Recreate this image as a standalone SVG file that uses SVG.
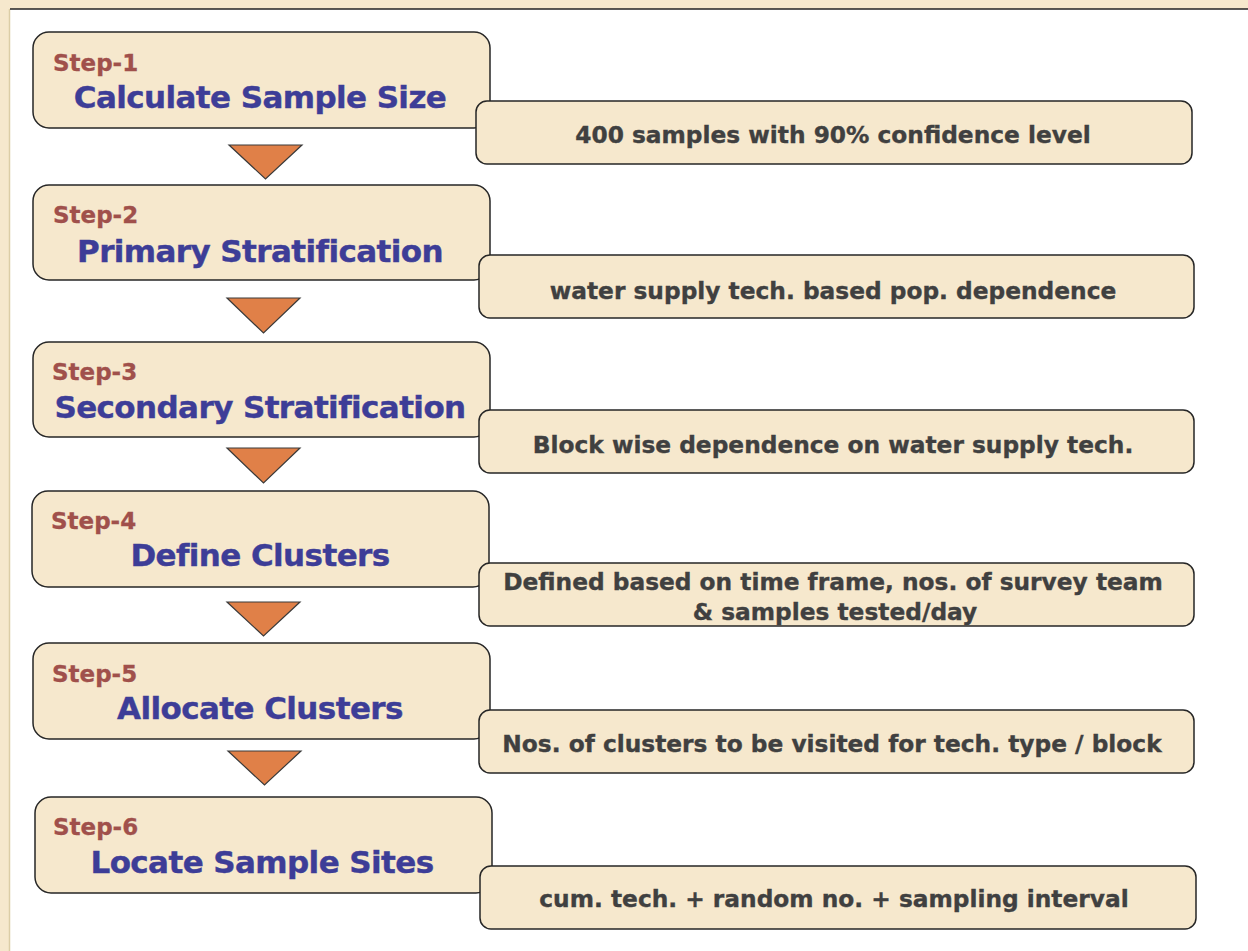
<svg xmlns="http://www.w3.org/2000/svg" width="1248" height="951" viewBox="0 0 1248 951">
<style>
.step{fill:#F6E8CD;stroke:#262626;stroke-width:1.5}
.note{fill:#F6E8CD;stroke:#262626;stroke-width:1.5}
.lbl{font-family:"DejaVu Sans",Verdana,sans-serif;font-weight:bold;font-size:23px;fill:#A0504B;stroke:#A0504B;stroke-width:0.3}
.ttl{font-family:"DejaVu Sans",Verdana,sans-serif;font-weight:bold;font-size:31px;fill:#3D3D97;stroke:#3D3D97;stroke-width:0.4;text-anchor:middle;letter-spacing:-0.6px}
.txt{font-family:"DejaVu Sans",Verdana,sans-serif;font-weight:bold;font-size:23.3px;fill:#404040;stroke:#404040;stroke-width:0.35;text-anchor:middle}
.arr{fill:#E08048;stroke:#3a3a3a;stroke-width:1.2;stroke-linejoin:miter}
</style>
<rect x="0" y="0" width="1248" height="951" fill="#FFFFFF"/>
<rect x="0" y="0" width="1248" height="9" fill="#F6E8CD"/>
<rect x="0" y="0" width="9" height="951" fill="#F6E8CD"/>
<line x1="9.5" y1="9" x2="9.5" y2="951" stroke="#DCCDA6" stroke-width="1.5"/>
<line x1="10" y1="9" x2="1248" y2="9" stroke="#222" stroke-width="1.5"/>

<g id="connectors">
<polygon class="arr" points="229,145 302,145 265.5,179"/>
<polygon class="arr" points="227,298 300,298 263.5,333"/>
<polygon class="arr" points="227,448 300,448 263.5,483"/>
<polygon class="arr" points="227,602 300,602 263.5,636"/>
<polygon class="arr" points="228,751 301,751 264.5,785"/>
</g>

<g id="step1">
<rect class="step" x="33" y="32" width="457" height="96" rx="16"/>
<text class="lbl" x="53" y="71">Step-1</text>
<text class="ttl" x="260" y="108">Calculate Sample Size</text>
</g>
<g id="note1">
<rect class="note" x="476" y="101" width="716" height="63" rx="11"/>
<text class="txt" x="833" y="143">400 samples with 90% confidence level</text>
</g>

<g id="step2">
<rect class="step" x="33" y="185" width="457" height="95" rx="16"/>
<text class="lbl" x="53" y="223">Step-2</text>
<text class="ttl" x="260" y="262">Primary Stratification</text>
</g>
<g id="note2">
<rect class="note" x="479" y="255" width="715" height="63" rx="11"/>
<text class="txt" x="833" y="299">water supply tech. based pop. dependence</text>
</g>

<g id="step3">
<rect class="step" x="33" y="342" width="457" height="95" rx="16"/>
<text class="lbl" x="52" y="380">Step-3</text>
<text class="ttl" x="260" y="418">Secondary Stratification</text>
</g>
<g id="note3">
<rect class="note" x="479" y="410" width="715" height="63" rx="11"/>
<text class="txt" x="833" y="453">Block wise dependence on water supply tech.</text>
</g>

<g id="step4">
<rect class="step" x="32" y="491" width="457" height="96" rx="16"/>
<text class="lbl" x="51" y="529">Step-4</text>
<text class="ttl" x="260" y="566">Define Clusters</text>
</g>
<g id="note4">
<rect class="note" x="479" y="563" width="715" height="63" rx="11"/>
<text class="txt" x="833" y="590">Defined based on time frame, nos. of survey team</text>
<text class="txt" x="835" y="620">&amp; samples tested/day</text>
</g>

<g id="step5">
<rect class="step" x="33" y="643" width="457" height="96" rx="16"/>
<text class="lbl" x="52" y="682">Step-5</text>
<text class="ttl" x="260" y="719">Allocate Clusters</text>
</g>
<g id="note5">
<rect class="note" x="479" y="710" width="715" height="63" rx="11"/>
<text class="txt" x="832" y="752">Nos. of clusters to be visited for tech. type / block</text>
</g>

<g id="step6">
<rect class="step" x="35" y="797" width="457" height="96" rx="16"/>
<text class="lbl" x="53" y="835">Step-6</text>
<text class="ttl" x="262" y="873">Locate Sample Sites</text>
</g>
<g id="note6">
<rect class="note" x="480" y="866" width="716" height="63" rx="11"/>
<text class="txt" x="834" y="907">cum. tech. + random no. + sampling interval</text>
</g>
</svg>
